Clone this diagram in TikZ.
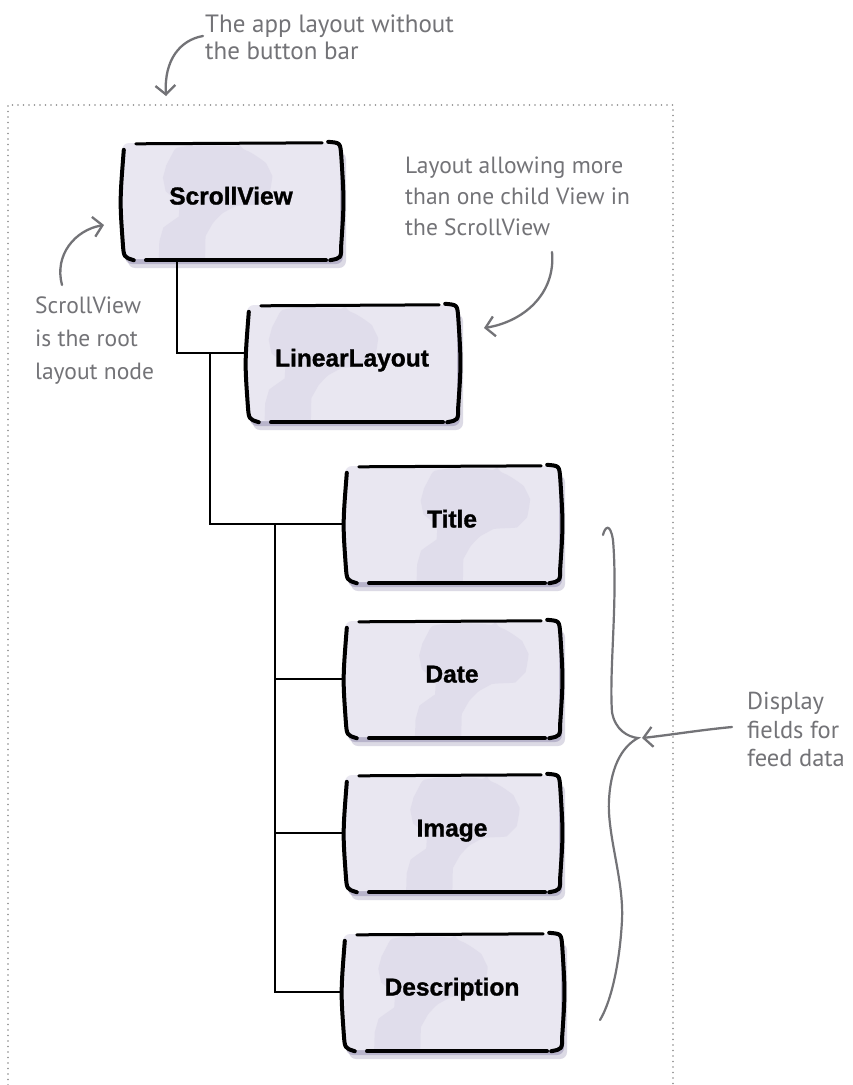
\documentclass[tikz,border=0pt]{standalone}
\usepackage{fontspec}
\setmainfont{PT Sans}
\newfontfamily\boxfont{Liberation Sans}[BoldFeatures={FakeBold=1.2}]
\usetikzlibrary{calc,arrows.meta,shadows}
\definecolor{boxfill}{HTML}{E9E7F1}
\definecolor{blobc}{HTML}{D9D5E6}
\definecolor{shadowc}{HTML}{8E86AC}
\definecolor{notec}{HTML}{737377}
\definecolor{framec}{HTML}{8A8A8A}
\tikzset{
  sk/.style={rectangle, rounded corners=7pt, fill=boxfill, minimum width=214pt, minimum height=116pt,
    inner sep=0pt, text height=17pt, text depth=10pt,
    font={\boxfont\bfseries\fontsize{24.5}{27}\selectfont},
    drop shadow={shadow xshift=6pt, shadow yshift=-9pt, fill=shadowc, opacity=.3},
    drop shadow={shadow xshift=3pt, shadow yshift=-5pt, fill=shadowc, opacity=.45},
    path picture={\begin{scope}[shift={(path picture bounding box.center)}]
      \fill[blobc, opacity=.5] plot[smooth cycle] coordinates {(15,-58) (70,-56) (100,-35) (95,-5) (60,5) (40,25) (30,58) (-5,58) (-8,30) (10,5) (-5,-20) (0,-45)};
      \end{scope}}},
  edgeline/.style={line width=4pt, line cap=round, black},
  conn/.style={line width=2pt, black},
  note/.style={font={\fontsize{24}{27}\selectfont}, text=notec, align=left, anchor=north west, inner sep=0pt},
  notearrow/.style={line width=2.3pt, draw=notec, line cap=round, -{Straight Barb[length=9pt,width=20pt,line width=2.3pt]}},
  bracestyle/.style={line width=2.2pt, draw=notec, line cap=round}
}
\newcommand\skedges[1]{%
  \draw[edgeline] ($(#1.north west)+(2,7)$) .. controls ($(#1.west)+(-2,0)$) .. ($(#1.south west)+(1,-16)$) .. controls ($(#1.south west)+(2,-2)$) .. ($(#1.south west)+(12,1)$);
  \draw[edgeline, line width=3pt] ($(#1.north west)+(14,1)$) -- ($(#1.north east)+(-18,0)$);
  \draw[edgeline] ($(#1.north east)+(-12,-1)$) .. controls ($(#1.north east)+(0,0)$) .. ($(#1.north east)+(1,12)$) .. controls ($(#1.east)+(4,0)$) .. ($(#1.south east)+(1,-14)$) .. controls ($(#1.south east)+(1,-1)$) .. ($(#1.south east)+(-10,1)$);
  \draw[edgeline, line width=3.5pt] ($(#1.south west)+(24,1)$) -- ($(#1.south east)+(-14,1)$);
}
\begin{document}
\begin{tikzpicture}[x=1pt,y=-1pt]
\useasboundingbox (0,0) rectangle (853,1085);
\fill[white] (0,0) rectangle (853,1085);
\draw[framec, line width=1.8pt, dash pattern=on 0pt off 5.5pt, line cap=round] (8,1085) -- (8,105) -- (673,105) -- (673,1085);

% boxes
\node[sk, minimum width=218pt] (sv) at (231,201) {ScrollView};
\node[sk, minimum width=210pt] (ll) at (352,363) {LinearLayout};
\node[sk] (ti) at (452,524) {Title};
\node[sk] (da) at (452,679) {Date};
\node[sk] (im) at (452,833) {Image};
\node[sk, minimum width=218pt] (de) at (452,992) {Description};
\skedges{sv}\skedges{ll}\skedges{ti}\skedges{da}\skedges{im}\skedges{de}

% connectors
\coordinate (j1) at ([xshift=55pt]sv.south west);
\draw[conn] (j1) |- ([yshift=10pt]ll.west);
\coordinate (j2) at ([xshift=-37pt,yshift=10pt]ll.west);
\draw[conn] (j2) |- (ti.west);
\coordinate (j3) at ([xshift=-70pt]ti.west);
\draw[conn] (j3) |- (de.west);
\draw[conn] (j3 |- da.west) -- (da.west);
\draw[conn] (j3 |- im.west) -- (im.west);

% annotations
\node[note, font={\fontsize{25}{27}\selectfont}] (n1) at (205,15) {The app layout without\\the button bar};
\node[note, font={\fontsize{23.5}{33}\selectfont}] (n2) at (35,297) {ScrollView\\is the root\\layout node};
\node[note, font={\fontsize{23.5}{31}\selectfont}] (n3) at (405,157) {Layout allowing more\\than one child View in\\the ScrollView};
\node[note, font={\fontsize{24.5}{28.5}\selectfont}] (n4) at (747,692) {Display\\fields for\\feed data};

\coordinate (a1s) at (203,36); \coordinate (a1e) at (166,96);
\draw[notearrow] (a1s) .. controls (180,40) and (164,60) .. (a1e);
\coordinate (a2s) at (62,285); \coordinate (a2e) at (104,225);
\draw[notearrow] (a2s) .. controls (54,255) and (75,230) .. (a2e);
\coordinate (a3s) at (552,252); \coordinate (a3e) at (484,328);
\draw[notearrow] (a3s) .. controls (556,295) and (522,322) .. (a3e);
\coordinate (a4s) at (732,727); \coordinate (a4e) at (642,738);
\draw[notearrow] (a4s) .. controls (700,730) and (670,735) .. (a4e);

% brace
\draw[bracestyle] (603,535) .. controls (605,527) and (610,522) .. (613,540)
  .. controls (618,600) and (609,670) .. (612,712)
  .. controls (615,730) and (628,737) .. (638,738)
  .. controls (625,745) and (611,762) .. (609,800)
  .. controls (607,835) and (624,880) .. (622,920)
  .. controls (620,960) and (612,1000) .. (600,1020);
\end{tikzpicture}
\end{document}
